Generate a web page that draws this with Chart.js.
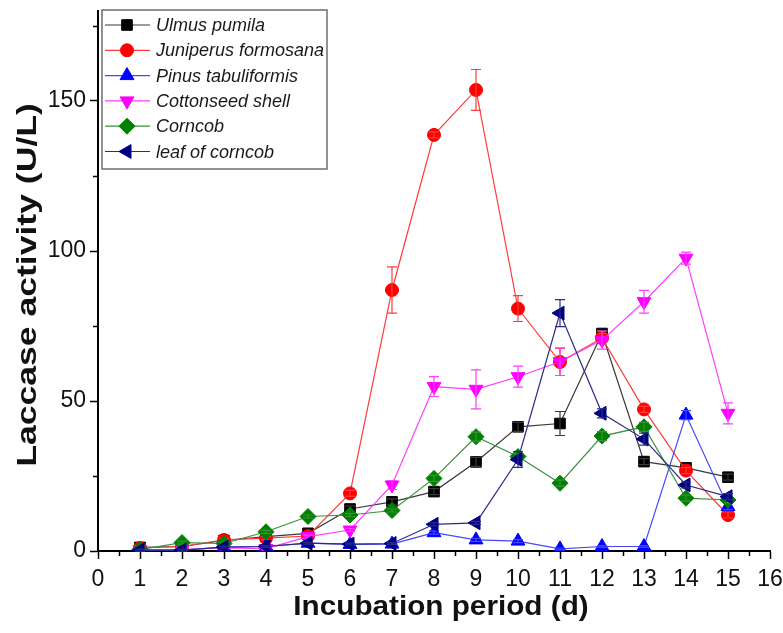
<!DOCTYPE html>
<html>
<head>
<meta charset="utf-8">
<title>Laccase activity</title>
<script src="https://cdn.jsdelivr.net/npm/chart.js@4.4.0/dist/chart.umd.min.js"></script>
<style>
  html, body { margin: 0; padding: 0; background: #fff; }
  #wrap { position: relative; width: 783px; height: 633px; }
</style>
</head>
<body>
<div id="wrap"><canvas id="chart" width="783" height="633"></canvas></div>
<script>
// incubation days
const days = [1, 2, 3, 4, 5, 6, 7, 8, 9, 10, 11, 12, 13, 14, 15];

// laccase activity (U/L)
const ulmus    = [1.2, 1.5, 3.5, 4.8, 5.9, 14.0, 16.4, 19.8, 29.7, 41.4, 42.5, 72.5, 29.8, 27.7, 24.6];
const juniper  = [1.0, 1.5, 3.7, 4.3, 5.0, 19.2, 87.0, 138.7, 153.7, 80.8, 63.0, 71.0, 47.2, 26.8, 12.0];
const pinus    = [0.3, 0.3, 1.3, 1.5, 2.6, 2.2, 2.3, 6.1, 3.7, 3.3, 0.7, 1.5, 1.5, 45.3, 14.8];
const cotton   = [0.5, 0.5, 1.0, 0.8, 4.8, 7.0, 22.0, 54.8, 53.9, 58.1, 63.1, 70.3, 83.1, 97.6, 45.9];
const corncob  = [0.5, 2.8, 2.5, 6.4, 11.5, 12.0, 13.5, 24.2, 38.1, 31.5, 22.6, 38.3, 41.4, 17.6, 17.0];
const leaf     = [0.3, 0.3, 1.3, 1.5, 2.6, 2.3, 2.5, 8.9, 9.4, 30.5, 79.3, 45.9, 37.3, 22.0, 18.1];

// standard deviations (error bars)
const ulmusErr   = [0.5, 0.5, 0.5, 0.5, 0.5, 1.0, 1.0, 1.0, 1.5, 1.5, 4.0, 1.0, 1.0, 1.0, 1.0];
const juniperErr = [0.5, 0.5, 0.5, 0.5, 0.5, 1.0, 7.7, 1.0, 6.8, 4.3, 4.5, 1.5, 1.0, 1.0, 1.0];
const pinusErr   = [0.3, 0.3, 0.3, 0.3, 0.3, 0.3, 0.3, 0.5, 0.5, 0.5, 0.3, 0.3, 0.3, 1.5, 1.0];
const cottonErr  = [0.3, 0.3, 0.3, 0.3, 0.5, 0.5, 1.5, 3.3, 6.5, 3.5, 4.6, 3.0, 3.8, 2.0, 3.5];
const corncobErr = [0.3, 0.5, 0.5, 0.5, 0.5, 0.5, 0.5, 1.0, 1.5, 1.0, 1.0, 1.5, 1.5, 1.0, 1.0];
const leafErr    = [0.3, 0.3, 0.3, 0.3, 0.3, 0.3, 0.3, 0.5, 0.5, 2.6, 4.5, 1.5, 2.0, 1.0, 1.0];

const seriesNames = ['Ulmus pumila', 'Juniperus formosana', 'Pinus tabuliformis',
                     'Cottonseed shell', 'Corncob', 'leaf of corncob'];

const xTitle = 'Incubation period (d)';
const yTitle = 'Laccase activity (U/L)';

// axis ticks
const xMinorTicks = [0.5, 1.5, 2.5, 3.5, 4.5, 5.5, 6.5, 7.5, 8.5, 9.5, 10.5, 11.5, 12.5, 13.5, 14.5, 15.5];
const yMinorTicks = [25, 75, 125, 175];

const FONT = '"Liberation Sans", Arial, sans-serif';

function pairs(vals) {
  return days.map((d, i) => ({ x: d, y: vals[i] }));
}

function series(i, vals, errs, marker, line, style, radius, rotation) {
  return {
    label: seriesNames[i],
    data: pairs(vals),
    errors: errs,
    borderColor: line,
    backgroundColor: marker,
    borderWidth: 1.2,
    pointStyle: style,
    pointRadius: radius,
    pointHoverRadius: radius,
    pointRotation: rotation,
    pointBackgroundColor: marker,
    pointBorderColor: marker,
    pointBorderWidth: 1,
    tension: 0,
    order: 6 - i
  };
}

const datasets = [
  series(0, ulmus,   ulmusErr,   '#000000', '#3a3a3a', 'rect',     7.5, 0),
  series(1, juniper, juniperErr, '#ff0000', '#ff3b3b', 'circle',   6.5, 0),
  series(2, pinus,   pinusErr,   '#0000ff', '#4646ff', 'triangle', 8,   0),
  series(3, cotton,  cottonErr,  '#ff00ff', '#ff3cff', 'triangle', 8,   180),
  series(4, corncob, corncobErr, '#008000', '#3a913a', 'rectRot',  8,   0),
  series(5, leaf,    leafErr,    '#000080', '#2a2a8a', 'triangle', 8,   270)
];

// vertical error bars with caps, drawn right after each line
const errorBars = {
  id: 'errorBars',
  afterDatasetDraw(chart, args) {
    const ds = chart.data.datasets[args.index];
    if (!ds.errors) return;
    const { ctx, scales: { x, y } } = chart;
    ctx.save();
    ctx.strokeStyle = ds.borderColor;
    ctx.lineWidth = 1.2;
    ds.data.forEach((p, i) => {
      const e = ds.errors[i];
      if (!e) return;
      const px = x.getPixelForValue(p.x);
      const top = y.getPixelForValue(p.y + e);
      const bot = y.getPixelForValue(Math.max(p.y - e, 0));
      ctx.beginPath();
      ctx.moveTo(px, top); ctx.lineTo(px, bot);
      ctx.moveTo(px - 5, top); ctx.lineTo(px + 5, top);
      ctx.moveTo(px - 5, bot); ctx.lineTo(px + 5, bot);
      ctx.stroke();
    });
    ctx.restore();
  }
};

// short minor ticks between the labelled ones
const minorTicks = {
  id: 'minorTicks',
  afterDraw(chart) {
    const { ctx, scales: { x, y } } = chart;
    ctx.save();
    ctx.strokeStyle = '#000';
    ctx.lineWidth = 1.5;
    ctx.beginPath();
    xMinorTicks.forEach(v => {
      const px = Math.round(x.getPixelForValue(v)) + 0.5;
      ctx.moveTo(px, y.bottom); ctx.lineTo(px, y.bottom + 5);
    });
    yMinorTicks.forEach(v => {
      const py = Math.round(y.getPixelForValue(v)) + 0.5;
      ctx.moveTo(x.left, py); ctx.lineTo(x.left - 5, py);
    });
    ctx.stroke();
    ctx.restore();
  }
};

// axis titles, slightly stretched along the text like the original
const axisTitles = {
  id: 'axisTitles',
  afterDraw(chart) {
    const { ctx, chartArea } = chart;
    ctx.save();
    ctx.fillStyle = '#111';
    ctx.textAlign = 'center';
    ctx.textBaseline = 'middle';

    ctx.save();
    ctx.translate((chartArea.left + chartArea.right) / 2 + 7, 608);
    ctx.scale(1.1, 1);
    ctx.font = 'bold 27px ' + FONT;
    ctx.fillText(xTitle, 0, 0);
    ctx.restore();

    ctx.save();
    ctx.translate(28, 285);
    ctx.rotate(-Math.PI / 2);
    ctx.scale(1.27, 1);
    ctx.font = 'bold 28px ' + FONT;
    ctx.fillText(yTitle, 0, 0);
    ctx.restore();

    ctx.restore();
  }
};

// boxed legend inside the plot, line + marker per entry
const boxLegend = {
  id: 'boxLegend',
  afterDraw(chart) {
    const { ctx } = chart;
    const left = 102, top = 10, w = 225, h = 159, rowH = 25.3;
    ctx.save();
    ctx.fillStyle = '#fff';
    ctx.fillRect(left, top, w, h);
    ctx.strokeStyle = '#6e6e6e';
    ctx.lineWidth = 1.5;
    ctx.strokeRect(left, top, w, h);
    ctx.font = 'italic 18px ' + FONT;
    ctx.textBaseline = 'middle';
    chart.data.datasets.forEach((ds, i) => {
      const cy = top + 15 + i * rowH;
      ctx.strokeStyle = ds.borderColor;
      ctx.lineWidth = 1.2;
      ctx.beginPath();
      ctx.moveTo(left + 3, cy); ctx.lineTo(left + 48, cy);
      ctx.stroke();
      ctx.fillStyle = ds.pointBackgroundColor;
      ctx.strokeStyle = ds.pointBorderColor;
      ctx.lineWidth = 1;
      Chart.helpers.drawPoint(ctx, {
        pointStyle: ds.pointStyle, radius: ds.pointRadius,
        rotation: ds.pointRotation, borderWidth: 1
      }, left + 25, cy);
      ctx.fillStyle = '#1a1a1a';
      ctx.fillText(ds.label, left + 54, cy + 1);
    });
    ctx.restore();
  }
};

new Chart(document.getElementById('chart'), {
  type: 'line',
  data: { datasets },
  options: {
    responsive: false,
    animation: false,
    devicePixelRatio: 1,
    layout: { padding: { top: 11, right: 13, left: 0, bottom: 0 } },
    plugins: { legend: { display: false }, tooltip: { enabled: false } },
    scales: {
      x: {
        type: 'linear',
        min: 0,
        max: 16,
        afterFit: s => { s.height = 82; s.paddingLeft = 0; s.paddingRight = 0; },
        ticks: {
          stepSize: 1,
          color: '#111',
          padding: 7,
          maxRotation: 0,
          font: { family: FONT, size: 23 }
        },
        grid: { drawOnChartArea: false, tickLength: 8, tickColor: '#000', tickWidth: 1.5 },
        border: { color: '#000', width: 2 },
        title: { display: false }
      },
      y: {
        min: 0,
        max: 180,
        afterFit: s => { s.width = 98; s.paddingTop = 0; s.paddingBottom = 0; },
        ticks: {
          stepSize: 50,
          includeBounds: false,
          color: '#111',
          padding: 4,
          font: { family: FONT, size: 23 }
        },
        grid: { drawOnChartArea: false, tickLength: 8, tickColor: '#000', tickWidth: 1.5 },
        border: { color: '#000', width: 2 },
        title: { display: false }
      }
    }
  },
  plugins: [errorBars, minorTicks, axisTitles, boxLegend]
});
</script>
</body>
</html>
